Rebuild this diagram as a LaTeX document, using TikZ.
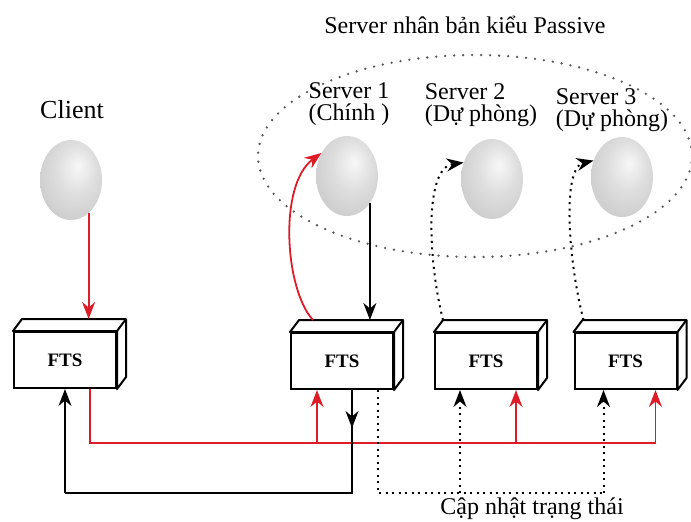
\documentclass[tikz,border=0pt]{standalone}
\usepackage{fontspec}
\setmainfont{Liberation Serif}
\usetikzlibrary{arrows.meta,shapes.geometric}
\definecolor{linkred}{RGB}{222,28,40}
\pgfdeclareradialshading{sphere}{\pgfpoint{6bp}{9bp}}{color(0bp)=(gray!6); color(16bp)=(gray!26);
	color(34bp)=(gray!42); color(48bp)=(gray!62); color(60bp)=(gray!62)}
\tikzset{
	ball/.style={ellipse, minimum width=62pt, minimum height=80pt, inner sep=0pt, shading=sphere},
	fts/.style={draw, line width=2pt, fill=white, minimum width=102pt, minimum height=56pt,
		inner sep=0pt, font=\fontsize{19}{19}\bfseries},
	txt/.style={font=\fontsize{24}{22}\selectfont, align=left, inner sep=0pt},
	redc/.style={draw=linkred, line width=1.8pt},
	blk/.style={draw=black, line width=1.8pt},
	upd/.style={draw=black, line width=2pt, dash pattern=on 2pt off 4.5pt},
	grp/.style={draw=black!65, line width=2.6pt, line cap=round, dash pattern=on 0pt off 9pt},
	>={Stealth[length=17pt,width=13pt]}
}

\begin{document}
\begin{tikzpicture}[x=1pt,y=-1pt]
	\useasboundingbox (0,0) rectangle (691,522);

	% passive replication group
	\draw[grp] (475,156) ellipse [x radius=217pt, y radius=101pt];
	\node[txt] (title) at (465,25) {Server nhân bản kiểu Passive};

	% client and servers
	\node[ball] (client) at (71,180) {};
	\node[ball] (s1) at (347,176) {};
	\node[ball] (s2) at (492,179) {};
	\node[ball] (s3) at (622,177) {};
	\node[txt, font=\fontsize{26}{26}\selectfont] (clientlbl) at (72,110) {Client};
	\node[txt] (s1lbl) at (349,104) {Server 1\\(Chính )};
	\node[txt] (s2lbl) at (481,105) {Server 2\\(Dự phòng)};
	\node[txt] (s3lbl) at (612,110) {Server 3\\(Dự phòng)};

	% FTS boxes
	\node[fts] (fc) at (65,360) {FTS};
	\node[fts] (f1) at (342,361) {FTS};
	\node[fts] (f2) at (486,361) {FTS};
	\node[fts] (f3) at (625.5,361) {FTS};
	\foreach \b in {fc,f1,f2,f3}{
		\draw[line width=2pt, fill=white, line join=round] (\b.north west) -- ++(9pt,12pt)
			-- ([shift={(9pt,12pt)}]\b.north east) -- ([shift={(9pt,12pt)}]\b.south east)
			-- (\b.south east) -- (\b.north east) -- cycle;
		\draw[line width=2pt] (\b.north east) -- ++(9pt,12pt);
		\path ([yshift=12pt]\b.north) coordinate (top\b);
	}

	\coordinate (bus) at (0,443);
	\coordinate (low) at (0,493);

	% client -> FTS, FTS -> primary
	\draw[redc,->] (client.-62) -- (client.-62 |- topfc);
	\draw[redc,->] ([xshift=-29pt]topf1) .. controls (285,290) and (278,185) .. (s1.138);
	\draw[blk,->] (s1.-50) -- (s1.-50 |- topf1);

	% FTS -> backups
	\draw[upd,->] ([xshift=-43pt]topf2) .. controls (428,260) and (424,168) .. (s2.150);
	\draw[upd,->] ([xshift=-42pt]topf3) .. controls (568,260) and (562,168) .. (s3.150);

	% red bus
	\path ([xshift=25pt]fc.south) coordinate (rc) ([xshift=-25pt]f1.south) coordinate (r1)
		([xshift=30pt]f2.south) coordinate (r2) ([xshift=30pt]f3.south) coordinate (r3);
	\draw[redc] (rc) |- (r3 |- bus);
	\foreach \r in {r1,r2,r3}
		\draw[redc,->] (\r |- bus) -- (\r);

	% reply back to client
	\path ([xshift=10pt]f1.south) coordinate (ret);
	\draw[blk,->] (ret) -- ++(0,38);
	\draw[blk] (ret) |- (fc.south |- low);
	\draw[blk,->] (fc.south |- low) -- (fc.south);

	% state update
	\path ([xshift=36pt]f1.south) coordinate (u1) ([xshift=-26pt]f2.south) coordinate (u2)
		([xshift=-22pt]f3.south) coordinate (u3);
	\draw[upd] (u1) |- (u3 |- low);
	\foreach \u in {u2,u3}
		\draw[upd,->] (\u |- low) -- (\u);
	\node[txt] (updlbl) at (532,509) {Cập nhật trạng thái};
\end{tikzpicture}
\end{document}
